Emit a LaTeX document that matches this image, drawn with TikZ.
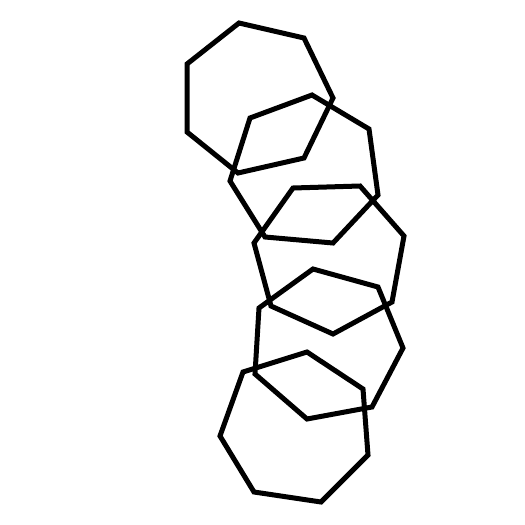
\documentclass[tikz,border=0pt]{standalone}
\usepackage{tikz}
\usetikzlibrary{calc}

\begin{document}
\begin{tikzpicture}[x=1pt,y=-1pt,ring/.style={draw=black,line width=5pt}]
  % Page frame, 525 x 525
  \useasboundingbox (0,0) rectangle (525,525);
  % Ring 1 (top)
  \draw[ring] (239,23) -- (304,38) -- (333,98) -- (304,158) -- (238,173) -- (187,132) -- (187,64) -- cycle;
  % Ring 2
  \draw[ring] (250,118) -- (312,95) -- (369,129) -- (378,195) -- (333,243) -- (265,237) -- (230,181) -- cycle;
  % Ring 3
  \draw[ring] (293,188) -- (360,186) -- (404,236) -- (392,302) -- (333,334) -- (271,306) -- (254,243) -- cycle;
  % Ring 4
  \draw[ring] (313,269) -- (378,287) -- (403,348) -- (372,407) -- (307,419) -- (255,374) -- (259,308) -- cycle;
  % Ring 5 (bottom)
  \draw[ring] (243,372) -- (307,352) -- (363,389) -- (368,455) -- (321,502) -- (254,492) -- (220,436) -- cycle;
\end{tikzpicture}
\end{document}
